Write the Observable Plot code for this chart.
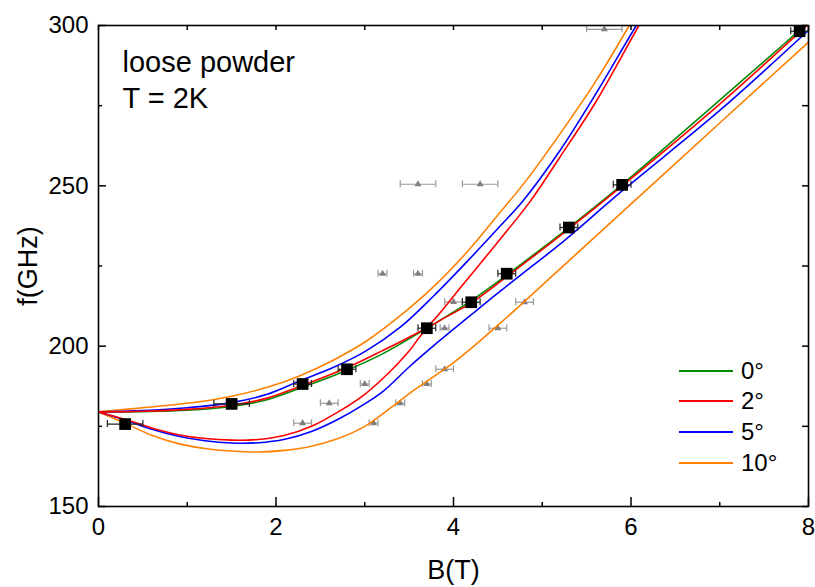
<!DOCTYPE html>
<html><head><meta charset="utf-8">
<script src="https://cdn.jsdelivr.net/npm/d3@7"></script>
<script src="https://cdn.jsdelivr.net/npm/@observablehq/plot@0.6"></script>
<style>
body{margin:0;background:#fff;}
#wrap{position:relative;width:815px;height:587px;font-family:"Liberation Sans",Arial,sans-serif;}
.leg{position:absolute;left:679px;display:flex;align-items:center;font-size:24px;height:30px;line-height:30px;color:#000;}
.leg .l{display:inline-block;width:54px;height:0;border-top:2px solid;margin-right:8px;}
</style></head><body><div id="wrap"></div>
<script>
// ---- data (B in T, f in GHz) ----
const curve0 = [[0,179.5],[0.5,179.6],[1.0,180.0],[1.5,181.2],[1.9,183.3],[2.3,187.2],[2.8,192.5],[3.2,197.6],[3.7,205.6],[4.2,214.2],[4.6,222.2],[5.3,237.0],[5.9,250.4],[6.5,264.7],[7.0,276.7],[7.5,288.8],[8.0,301.0]];
const curve2Upper = [[0,179.5],[0.5,179.7],[1.0,180.3],[1.5,181.6],[1.9,183.8],[2.3,187.8],[2.8,193.3],[3.2,198.6],[3.5,202.8],[3.7,206.0],[4.1,219.0],[4.5,232.5],[4.86,245.0],[5.2,259.0],[5.6,276.0],[6.09,300.0],[6.2,305]];
const curve2Lower = [[0,179.5],[0.3,177.2],[0.6,174.5],[0.9,172.4],[1.2,171.2],[1.5,170.7],[1.8,170.9],[2.1,172.2],[2.4,175.0],[2.7,179.5],[3.0,185.0],[3.3,192.5],[3.5,198.5],[3.7,205.3],[4.2,213.5],[4.6,221.7],[5.3,236.6],[5.9,250.0],[7.0,275.5],[8.0,300.5]];
const curve5Upper = [[0,179.5],[0.5,179.9],[1.0,180.8],[1.5,182.4],[1.9,185.0],[2.27,189.2],[2.65,193.4],[3.02,198.6],[3.40,205.9],[3.77,215.5],[4.15,226.3],[4.52,237.3],[4.78,245.2],[5.2,261.0],[5.6,278.5],[6.06,300.0],[6.2,306]];
const curve5Lower = [[0,179.5],[0.3,177.0],[0.6,174.1],[0.9,171.9],[1.2,170.5],[1.5,169.8],[1.8,169.9],[2.1,171.0],[2.4,173.4],[2.7,177.2],[3.0,182.0],[3.21,186.0],[3.5,193.5],[3.77,200.0],[4.2,209.8],[4.52,217.0],[4.86,224.4],[5.2,231.8],[5.9,248.4],[7.0,273.5],[8.0,298.5]];
const curve10Upper = [[0,179.5],[0.5,180.8],[1.09,182.5],[1.5,184.4],[1.93,187.4],[2.27,190.8],[2.65,195.7],[3.02,201.6],[3.40,209.5],[3.77,218.4],[4.15,229.3],[4.45,239.2],[4.82,251.7],[5.2,266.2],[5.6,282.5],[5.98,300.0],[6.1,306]];
const curve10Lower = [[0,179.5],[0.3,176.0],[0.6,172.2],[0.9,169.6],[1.2,168.1],[1.5,167.3],[1.8,167.0],[2.1,167.5],[2.4,168.8],[2.7,171.2],[3.0,175.0],[3.28,180.5],[3.55,186.2],[4.03,195.5],[4.52,207.0],[5.2,224.1],[5.9,241.8],[7.0,269.6],[8.0,294.8]];

// measured points: [B, f, B error]
const squares = [[0.3,175.7,0.2],[1.5,182.0,0.2],[2.3,188.2,0.1],[2.8,192.8,0.1],[3.7,205.6,0.1],[4.2,213.7,0.1],[4.6,222.6,0.1],[5.3,237.0,0.1],[5.9,250.3,0.1],[7.9,298.2,0.1]];
const triangles = [[5.7,298.8,0.2],[3.6,250.5,0.2],[4.3,250.5,0.2],[3.2,222.6,0.05],[3.6,222.6,0.05],[4.0,213.8,0.1],[3.9,205.6,0.05],[4.5,205.6,0.1],[4.8,213.7,0.1],[3.9,192.8,0.1],[3.0,188.2,0.05],[3.7,188.2,0.05],[2.6,182.2,0.1],[3.4,182.2,0.05],[2.3,176.0,0.1],[3.1,176.0,0.05]];

const angles = ["0°","2°","5°","10°"];
const colors = ["#008c00","#ff0000","#0000ff","#ff8000"];

const xMajor = [0,2,4,6,8], xMinor = [1,3,5,7];
const yMajor = [150,200,250,300], yMinor = [175,225,275];
const annotation = ["loose powder","T = 2K"];

// ---- build rows ----
const toRows = (arr, series, branch) => arr.map(([B,f]) => ({B, f, series, branch}));
const lines = [
  ...toRows(curve0, "0°", "u"),
  ...toRows(curve10Upper, "10°", "u"), ...toRows(curve10Lower, "10°", "l"),
  ...toRows(curve5Upper, "5°", "u"), ...toRows(curve5Lower, "5°", "l"),
  ...toRows(curve2Upper, "2°", "u"), ...toRows(curve2Lower, "2°", "l")
];
const sq = squares.map(([B,f,e]) => ({B,f,e}));
const tr = triangles.map(([B,f,e]) => ({B,f,e}));

const W = 815, H = 587, mL = 98, mR = 7, mT = 25, mB = 81;
const fw = W - mL - mR, fh = H - mT - mB;

function errMarks(data, color, sw) {
  return [
    Plot.link(data, {x1: d => d.B - d.e, x2: d => d.B + d.e, y1: "f", y2: "f", stroke: color, strokeWidth: sw}),
    Plot.ruleX(data, {x: d => d.B - d.e, y1: "f", y2: "f", insetTop: -3.5, insetBottom: -3.5, stroke: color, strokeWidth: sw}),
    Plot.ruleX(data, {x: d => d.B + d.e, y1: "f", y2: "f", insetTop: -3.5, insetBottom: -3.5, stroke: color, strokeWidth: sw})
  ];
}

const chart = Plot.plot({
  width: W, height: H,
  marginLeft: mL, marginRight: mR, marginTop: mT, marginBottom: mB,
  style: {fontFamily: '"Liberation Sans", Arial, sans-serif', background: "white", color: "black"},
  x: {domain: [0, 8], axis: null},
  y: {domain: [150, 300], axis: null},
  color: {domain: angles, range: colors},
  marks: [
    // gray data
    ...errMarks(tr, "#9a9a9a", 1.2),
    Plot.dot(tr, {x: "B", y: "f", symbol: "triangle", r: 2.6, fill: "#7f7f7f"}),
    // model curves
    Plot.line(lines, {x: "B", y: "f", z: d => d.series + d.branch, stroke: "series", strokeWidth: 1.6, curve: "catmull-rom", clip: true}),
    // black data
    ...errMarks(sq, "#222", 1.2),
    Plot.dot(sq, {x: "B", y: "f", symbol: "square", r: 6.6, fill: "black"}),
    // frame & ticks
    Plot.frame({stroke: "black", strokeWidth: 1.6}),
    Plot.ruleX(xMajor, {insetTop: fh - 9, stroke: "black", strokeWidth: 1.5}),
    Plot.ruleX(xMinor, {insetTop: fh - 4, stroke: "black", strokeWidth: 1.5}),
    Plot.ruleX([...xMajor, ...xMinor], {insetBottom: fh - 5, stroke: "black", strokeWidth: 1.5}),
    Plot.ruleY(yMajor, {insetRight: fw - 8, stroke: "black", strokeWidth: 1.5}),
    Plot.ruleY(yMinor, {insetRight: fw - 4, stroke: "black", strokeWidth: 1.5}),
    Plot.ruleY([...yMajor, ...yMinor], {insetLeft: fw - 6, stroke: "black", strokeWidth: 1.5}),
    // tick labels
    Plot.text(xMajor, {x: d => d, frameAnchor: "bottom", dy: 21, lineAnchor: "middle", fontSize: 24, fill: "black"}),
    Plot.text(yMajor, {y: d => d, frameAnchor: "left", dx: -10, textAnchor: "end", lineAnchor: "middle", fontSize: 24, fill: "black"}),
    // axis titles
    Plot.text(["B(T)"], {frameAnchor: "bottom", dy: 64, lineAnchor: "middle", textAnchor: "middle", fontSize: 27, fill: "black"}),
    Plot.text(["f(GHz)"], {frameAnchor: "left", dx: -70, rotate: -90, lineAnchor: "middle", textAnchor: "middle", fontSize: 27, fill: "black"}),
    // annotation
    Plot.text([annotation[0]], {frameAnchor: "top-left", dx: 24, dy: 37, textAnchor: "start", lineAnchor: "middle", fontSize: 29, fill: "black"}),
    Plot.text([annotation[1]], {frameAnchor: "top-left", dx: 24, dy: 73, textAnchor: "start", lineAnchor: "middle", fontSize: 29, fill: "black"})
  ]
});

const wrap = document.getElementById("wrap");
wrap.appendChild(chart);
const legTops = [356, 386, 417, 448];
angles.forEach((a, i) => {
  const d = document.createElement("div");
  d.className = "leg";
  d.style.top = legTops[i] + "px";
  const l = document.createElement("span");
  l.className = "l";
  l.style.borderTopColor = colors[i];
  d.appendChild(l);
  d.appendChild(document.createTextNode(a));
  wrap.appendChild(d);
});
</script></body></html>
